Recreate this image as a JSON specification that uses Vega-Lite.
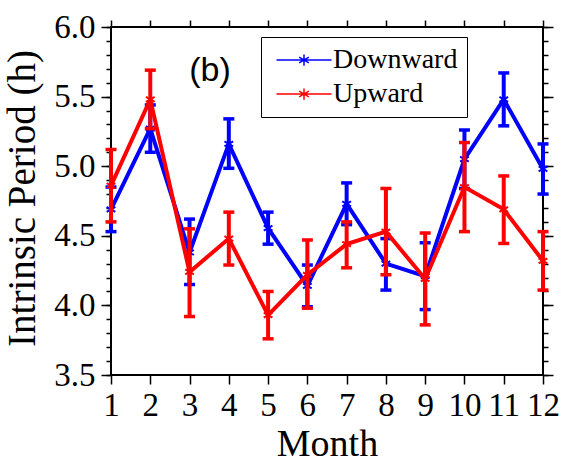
{
  "$schema": "https://vega.github.io/schema/vega-lite/v6.json",
  "autosize": {"type": "none"},
  "padding": {"left": 111, "top": 27, "right": 24, "bottom": 94},
  "width": 432,
  "height": 348,
  "background": "white",
  "config": {
    "font": "Liberation Serif",
    "view": {"stroke": "black", "strokeWidth": 2},
    "axis": {
      "grid": false,
      "domain": false,
      "tickColor": "black",
      "tickWidth": 1.5,
      "labelColor": "black",
      "titleColor": "black",
      "labelFont": "Liberation Serif",
      "titleFont": "Liberation Serif",
      "titleFontWeight": "normal",
      "labelOverlap": false,
      "labelFlush": false
    },
    "legend": {
      "labelFont": "Liberation Serif",
      "labelFontSize": 28,
      "labelColor": "black"
    }
  },
  "datasets": {
    "period": [
      {"month": 1, "dir": "Downward", "mean": 4.69, "lo": 4.53, "hi": 4.85},
      {"month": 2, "dir": "Downward", "mean": 5.27, "lo": 5.10, "hi": 5.44},
      {"month": 3, "dir": "Downward", "mean": 4.38, "lo": 4.15, "hi": 4.62},
      {"month": 4, "dir": "Downward", "mean": 5.16, "lo": 4.985, "hi": 5.34},
      {"month": 5, "dir": "Downward", "mean": 4.555, "lo": 4.44, "hi": 4.67},
      {"month": 6, "dir": "Downward", "mean": 4.14, "lo": 3.99, "hi": 4.29},
      {"month": 7, "dir": "Downward", "mean": 4.73, "lo": 4.58, "hi": 4.88},
      {"month": 8, "dir": "Downward", "mean": 4.30, "lo": 4.11, "hi": 4.48},
      {"month": 9, "dir": "Downward", "mean": 4.21, "lo": 3.97, "hi": 4.45},
      {"month": 10, "dir": "Downward", "mean": 5.05, "lo": 4.84, "hi": 5.26},
      {"month": 11, "dir": "Downward", "mean": 5.48, "lo": 5.29, "hi": 5.67},
      {"month": 12, "dir": "Downward", "mean": 4.98, "lo": 4.80, "hi": 5.16},
      {"month": 1, "dir": "Upward", "mean": 4.86, "lo": 4.60, "hi": 5.12},
      {"month": 2, "dir": "Upward", "mean": 5.48, "lo": 5.27, "hi": 5.69},
      {"month": 3, "dir": "Upward", "mean": 4.24, "lo": 3.92, "hi": 4.55},
      {"month": 4, "dir": "Upward", "mean": 4.48, "lo": 4.29, "hi": 4.67},
      {"month": 5, "dir": "Upward", "mean": 3.93, "lo": 3.76, "hi": 4.10},
      {"month": 6, "dir": "Upward", "mean": 4.22, "lo": 3.98, "hi": 4.47},
      {"month": 7, "dir": "Upward", "mean": 4.44, "lo": 4.27, "hi": 4.60},
      {"month": 8, "dir": "Upward", "mean": 4.53, "lo": 4.22, "hi": 4.84},
      {"month": 9, "dir": "Upward", "mean": 4.19, "lo": 3.86, "hi": 4.52},
      {"month": 10, "dir": "Upward", "mean": 4.85, "lo": 4.53, "hi": 5.17},
      {"month": 11, "dir": "Upward", "mean": 4.69, "lo": 4.445, "hi": 4.93},
      {"month": 12, "dir": "Upward", "mean": 4.32, "lo": 4.11, "hi": 4.53}
    ],
    "panel": [{"tag": "(b)"}]
  },
  "data": {"name": "period"},
  "resolve": {"axis": {"x": "independent", "y": "independent"}},
  "layer": [
    {
      "transform": [{"filter": "datum.dir === 'Downward'"}],
      "mark": {"type": "rule", "strokeWidth": 4},
      "encoding": {
        "x": {"field": "month", "type": "quantitative",
          "scale": {"domain": [1, 12], "nice": false, "zero": false},
          "axis": {"orient": "bottom", "values": [1,2,3,4,5,6,7,8,9,10,11,12], "format": "d",
            "labelFontSize": 33, "tickSize": 9, "labelPadding": 5,
            "title": "Month", "titleFontSize": 38, "titlePadding": 3}},
        "y": {"field": "lo", "type": "quantitative",
          "scale": {"domain": [3.5, 6.0], "nice": false, "zero": false},
          "axis": {"orient": "left", "values": [3.5, 4, 4.5, 5, 5.5, 6], "format": ".1f",
            "labelFontSize": 33, "tickSize": 10, "labelPadding": 6,
            "title": "Intrinsic Period (h)", "titleFontSize": 39, "titlePadding": 11, "titleY": 171}},
        "y2": {"field": "hi"},
        "color": {"field": "dir", "type": "nominal",
          "scale": {"domain": ["Downward", "Upward"], "range": ["#0000ff", "#ff0000"]},
          "legend": {"title": null, "orient": "none", "legendX": 150, "legendY": 10,
            "strokeColor": "black", "fillColor": "white", "padding": 9,
            "symbolType": "M-2.2,0H2.2M0,-0.45V0.45M-0.39,-0.225L0.39,0.225M-0.39,0.225L0.39,-0.225",
            "symbolSize": 625, "symbolStrokeWidth": 1.5, "symbolFillColor": "transparent",
            "symbolOffset": 20, "labelOffset": 15, "rowPadding": 6}}
      }
    },
    {
      "transform": [{"filter": "datum.dir === 'Downward'"}],
      "mark": {"type": "tick", "orient": "horizontal", "size": 11, "thickness": 3.5, "opacity": 1},
      "encoding": {
        "x": {"field": "month", "type": "quantitative",
          "axis": {"orient": "top", "values": [1,2,3,4,5,6,7,8,9,10,11,12], "labels": false, "tickSize": 7, "title": null}},
        "y": {"field": "lo", "type": "quantitative",
          "axis": {"orient": "left", "values": [3.5,3.6,3.7,3.8,3.9,4.0,4.1,4.2,4.3,4.4,4.5,4.6,4.7,4.8,4.9,5.0,5.1,5.2,5.3,5.4,5.5,5.6,5.7,5.8,5.9,6.0],
            "labels": false, "tickSize": 5, "title": null}},
        "color": {"field": "dir", "type": "nominal"}
      }
    },
    {
      "transform": [{"filter": "datum.dir === 'Downward'"}],
      "mark": {"type": "tick", "orient": "horizontal", "size": 11, "thickness": 3.5, "opacity": 1},
      "encoding": {
        "x": {"field": "month", "type": "quantitative", "axis": null},
        "y": {"field": "hi", "type": "quantitative",
          "axis": {"orient": "right", "values": [3.5, 4, 4.5, 5, 5.5, 6], "labels": false, "tickSize": 10, "title": null}},
        "color": {"field": "dir", "type": "nominal"}
      }
    },
    {
      "transform": [{"filter": "datum.dir === 'Downward'"}],
      "mark": {"type": "line", "strokeWidth": 4},
      "encoding": {
        "x": {"field": "month", "type": "quantitative", "axis": null},
        "y": {"field": "mean", "type": "quantitative",
          "axis": {"orient": "right", "values": [3.5,3.6,3.7,3.8,3.9,4.0,4.1,4.2,4.3,4.4,4.5,4.6,4.7,4.8,4.9,5.0,5.1,5.2,5.3,5.4,5.5,5.6,5.7,5.8,5.9,6.0],
            "labels": false, "tickSize": 5, "title": null}},
        "color": {"field": "dir", "type": "nominal"}
      }
    },
    {
      "transform": [{"filter": "datum.dir === 'Downward'"}],
      "mark": {"type": "point", "shape": "M0,-1V1M-0.87,-0.5L0.87,0.5M-0.87,0.5L0.87,-0.5", "size": 100, "strokeWidth": 2, "filled": false, "opacity": 1},
      "encoding": {
        "x": {"field": "month", "type": "quantitative", "axis": null},
        "y": {"field": "mean", "type": "quantitative", "axis": null},
        "color": {"field": "dir", "type": "nominal"}
      }
    },
    {
      "transform": [{"filter": "datum.dir === 'Upward'"}],
      "mark": {"type": "rule", "strokeWidth": 4},
      "encoding": {
        "x": {"field": "month", "type": "quantitative", "axis": null},
        "y": {"field": "lo", "type": "quantitative", "axis": null},
        "y2": {"field": "hi"},
        "color": {"field": "dir", "type": "nominal"}
      }
    },
    {
      "transform": [{"filter": "datum.dir === 'Upward'"}],
      "mark": {"type": "tick", "orient": "horizontal", "size": 11, "thickness": 3.5, "opacity": 1},
      "encoding": {
        "x": {"field": "month", "type": "quantitative", "axis": null},
        "y": {"field": "lo", "type": "quantitative", "axis": null},
        "color": {"field": "dir", "type": "nominal"}
      }
    },
    {
      "transform": [{"filter": "datum.dir === 'Upward'"}],
      "mark": {"type": "tick", "orient": "horizontal", "size": 11, "thickness": 3.5, "opacity": 1},
      "encoding": {
        "x": {"field": "month", "type": "quantitative", "axis": null},
        "y": {"field": "hi", "type": "quantitative", "axis": null},
        "color": {"field": "dir", "type": "nominal"}
      }
    },
    {
      "transform": [{"filter": "datum.dir === 'Upward'"}],
      "mark": {"type": "line", "strokeWidth": 4},
      "encoding": {
        "x": {"field": "month", "type": "quantitative", "axis": null},
        "y": {"field": "mean", "type": "quantitative", "axis": null},
        "color": {"field": "dir", "type": "nominal"}
      }
    },
    {
      "transform": [{"filter": "datum.dir === 'Upward'"}],
      "mark": {"type": "point", "shape": "M0,-1V1M-0.87,-0.5L0.87,0.5M-0.87,0.5L0.87,-0.5", "size": 100, "strokeWidth": 2, "filled": false, "opacity": 1},
      "encoding": {
        "x": {"field": "month", "type": "quantitative", "axis": null},
        "y": {"field": "mean", "type": "quantitative", "axis": null},
        "color": {"field": "dir", "type": "nominal"}
      }
    },
    {
      "data": {"name": "panel"},
      "mark": {"type": "text", "font": "Liberation Sans", "fontSize": 34, "fontWeight": "normal", "fill": "black", "align": "center", "baseline": "alphabetic"},
      "encoding": {
        "text": {"field": "tag"},
        "x": {"datum": 3.52, "type": "quantitative", "axis": null},
        "y": {"datum": 5.61, "type": "quantitative", "axis": null}
      }
    }
  ]
}
